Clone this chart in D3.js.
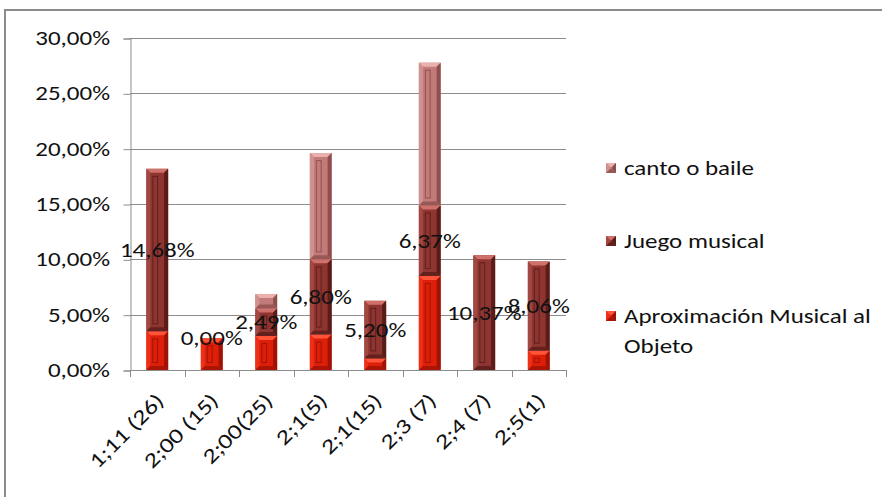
<!DOCTYPE html>
<html>
<head>
<meta charset="utf-8">
<script src="https://cdn.jsdelivr.net/npm/d3@7"></script>
<style>
  html, body { margin: 0; padding: 0; background: #fff; }
  svg { display: block; }
  text { font-family: Carlito, Calibri, Lato, "Open Sans", sans-serif; fill: #111; }
</style>
</head>
<body>
<svg id="chart" width="882" height="497"></svg>
<script>
// Category labels (age and group size)
const categories = ["1;11 (26)", "2;00 (15)", "2;00(25)", "2;1(5)", "2;1(15)", "2;3 (7)", "2;4 (7)", "2;5(1)"];
// Series values, in percent
const aproximacion = [3.50, 2.87, 3.07, 3.20, 1.05, 8.50, 0.00, 1.75];
const juego        = [14.68, 0.00, 2.49, 6.80, 5.20, 6.37, 10.37, 8.06];
const canto        = [0.00, 0.00, 1.31, 9.60, 0.00, 12.90, 0.00, 0.00];
// Value axis ticks
const yTicks = [0, 5, 10, 15, 20, 25, 30];

const seriesKeys = ["aprox", "juego", "canto"];

// Colour sets per series: face, light bevel, side bevel, dark bevel, groove
const palette = {
  aprox: { face: "#dd1f0a", light: "#ff5438", side: "#ee3018", dark: "#9e1305", groove: "#a01406" },
  juego: { face: "#8e3531", light: "#d0706a", side: "#a24842", dark: "#5a1c19", groove: "#5e201d" },
  canto: { face: "#c27b79", light: "#eab0ad", side: "#d09290", dark: "#8e4f4d", groove: "#93524f" }
};

const STRETCH = 1.25; // horizontal glyph stretch
const FS = 20;

const svg = d3.select("#chart");

// Chart frame
svg.append("rect")
  .attr("x", 5).attr("y", 10).attr("width", 900).attr("height", 520)
  .attr("fill", "#fff").attr("stroke", "#8c8c8c").attr("stroke-width", 2);

const x = d3.scaleBand().domain(categories).range([130, 566]).paddingInner(0.6).paddingOuter(0.3);
const y = d3.scaleLinear().domain([0, 30]).range([370, 38]);

const fmt = v => d3.format(".2f")(v).replace(".", ",") + "%";

// Gridlines
svg.append("g").selectAll("line").data(yTicks.filter(t => t > 0)).join("line")
  .attr("x1", 130).attr("x2", 566)
  .attr("y1", d => Math.round(y(d)) + 0.5).attr("y2", d => Math.round(y(d)) + 0.5)
  .attr("stroke", "#8c8c8c").attr("stroke-width", 1);

// Value axis
const yAxis = svg.append("g").attr("transform", "translate(130.5,0.5)")
  .call(d3.axisLeft(y).tickValues(yTicks).tickSize(7).tickPadding(0).tickFormat(() => ""));
yAxis.select(".domain").attr("stroke", "#8c8c8c");
yAxis.selectAll(".tick line").attr("stroke", "#8c8c8c");

svg.append("g").selectAll("text").data(yTicks).join("text")
  .attr("transform", d => `translate(110,${y(d)}) scale(${STRETCH},1)`)
  .attr("text-anchor", "end").attr("dy", "0.35em")
  .style("font-size", FS + "px")
  .text(d => fmt(d));

// Category axis with ticks between categories
const step = x.step();
const x0 = x.range()[0];
const boundaries = d3.range(categories.length + 1).map(i => x0 + i * step);
svg.append("line").attr("x1", 130).attr("x2", 566).attr("y1", 370.5).attr("y2", 370.5)
  .attr("stroke", "#8c8c8c");
svg.append("g").selectAll("line").data(boundaries).join("line")
  .attr("x1", d => Math.round(d) + 0.5).attr("x2", d => Math.round(d) + 0.5)
  .attr("y1", 370).attr("y2", 377).attr("stroke", "#8c8c8c");

svg.append("g").selectAll("text").data(categories).join("text")
  .attr("transform", d => `translate(${x(d) + x.bandwidth() / 2 + 8},402) rotate(-45) scale(${STRETCH},1)`)
  .attr("text-anchor", "end")
  .style("font-size", (FS + 1) + "px")
  .text(d => d);

// Stack the series
const rows = categories.map((c, i) => ({ cat: c, aprox: aproximacion[i], juego: juego[i], canto: canto[i] }));
const stacked = d3.stack().keys(seriesKeys)(rows);

// Bevelled bar segment
function drawSegment(g, x1, y1, w, h, col) {
  if (h <= 0.01) return;
  const b = Math.min(4, h / 2);
  const x2 = x1 + w, y2 = y1 + h;
  g.append("rect").attr("x", x1).attr("y", y1).attr("width", w).attr("height", h).attr("fill", col.face);
  // top bevel
  g.append("path").attr("d", `M${x1},${y1}L${x2},${y1}L${x2 - b},${y1 + b}L${x1 + b},${y1 + b}Z`).attr("fill", col.light);
  // left bevel
  g.append("path").attr("d", `M${x1},${y1}L${x1 + b},${y1 + b}L${x1 + b},${y2 - b}L${x1},${y2}Z`).attr("fill", col.side);
  // right bevel
  g.append("path").attr("d", `M${x2},${y1}L${x2},${y2}L${x2 - b},${y2 - b}L${x2 - b},${y1 + b}Z`).attr("fill", col.dark);
  // bottom bevel
  g.append("path").attr("d", `M${x1},${y2}L${x2},${y2}L${x2 - b},${y2 - b}L${x1 + b},${y2 - b}Z`).attr("fill", col.dark).attr("opacity", 0.8);
  // inner groove
  if (h > 14) {
    g.append("rect").attr("x", x1 + b + 2.5).attr("y", y1 + b + 3.5)
      .attr("width", Math.max(2, w * 0.22)).attr("height", h - 2 * b - 7)
      .attr("fill", "none").attr("stroke", col.groove).attr("stroke-width", 1);
  }
}

const barsG = svg.append("g");
stacked.forEach(layer => {
  const col = palette[layer.key];
  layer.forEach(d => {
    const top = y(d[1]), bottom = y(d[0]);
    drawSegment(barsG, x(d.data.cat), top, x.bandwidth(), bottom - top, col);
  });
});

// Value labels for "Juego musical", centred on its segment
const juegoLayer = stacked.find(s => s.key === "juego");
svg.append("g").selectAll("text").data(juegoLayer).join("text")
  .attr("transform", d => `translate(${x(d.data.cat) + x.bandwidth() / 2},${y((d[0] + d[1]) / 2)}) scale(${STRETCH},1)`)
  .attr("text-anchor", "middle").attr("dy", "0.35em")
  .style("font-size", FS + "px")
  .text((d, i) => fmt(juego[i]));

// Legend
const legendItems = [
  { key: "canto", lines: ["canto o baile"], y: 168 },
  { key: "juego", lines: ["Juego musical"], y: 241 },
  { key: "aprox", lines: ["Aproximación Musical al", "Objeto"], y: 316 }
];
const lg = svg.append("g");
legendItems.forEach(it => {
  const col = palette[it.key];
  drawSegment(lg, 606, it.y - 5, 10, 10, col);
  it.lines.forEach((ln, j) => {
    lg.append("text")
      .attr("transform", `translate(624,${it.y + j * 30}) scale(${STRETCH},1)`)
      .attr("dy", "0.35em")
      .style("font-size", FS + "px")
      .text(ln);
  });
});
</script>
</body>
</html>
